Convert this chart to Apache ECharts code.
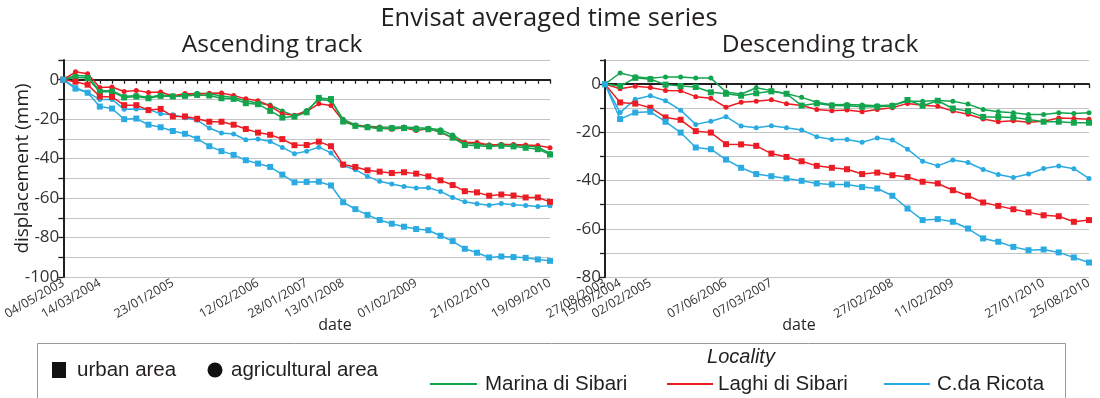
<!DOCTYPE html>
<html>
<head>
<meta charset="utf-8">
<script src="https://cdn.jsdelivr.net/npm/echarts@6/dist/echarts.min.js"></script>
<style>
  html, body { margin: 0; padding: 0; background: #fff; }
  #chart { width: 1100px; height: 398px; }
</style>
</head>
<body>
<div id="chart"></div>
<script>
// Acquisition dates shown on each time axis (index of the acquisition -> label)
const ascTickIndex = [0, 3, 9, 16, 20, 23, 29, 35, 40];
const ascTickLabels = ['04/05/2003', '14/03/2004', '23/01/2005', '12/02/2006', '28/01/2007',
  '13/01/2008', '01/02/2009', '21/02/2010', '19/09/2010'];
const descTickIndex = [0, 1, 3, 8, 11, 19, 23, 29, 32];
const descTickLabels = ['27/08/2003', '15/09/2004', '02/02/2005', '07/06/2006', '07/03/2007',
  '27/02/2008', '11/02/2009', '27/01/2010', '25/08/2010'];

// Ascending track, displacement (mm) per acquisition
const ascMarinaUrban = [0, 1.2, 0.9, -6.2, -6, -9, -8.5, -9.4, -8.2, -8.5, -8.2, -7.7, -8, -9.4, -9.7, -11.9,
  -12.4, -15.8, -19.2, -18.7, -16.5, -9.2, -9.8, -21.2, -23.4, -24.1, -24.8, -24.6, -24.5, -25, -25.1,
  -26.3, -29.4, -33.1, -33.5, -33.8, -33.5, -33.8, -34.5, -35.2, -37.9];
const ascMarinaAgri = [0, 2.3, 1.8, -5.6, -5.6, -8.5, -8, -9, -7.7, -8.2, -7.7, -6.8, -7.1, -8.2, -9, -10.7,
  -11.9, -12.8, -15.8, -18.4, -15.6, -10, -10.6, -20, -22.9, -23.6, -23.9, -24.1, -23.9, -24.3, -24.6,
  -25.3, -28, -31.8, -32.8, -33.1, -32.8, -33.1, -33.6, -34.1, -37.4];
const ascLaghiUrban = [0, -1, -2.5, -8.5, -8.7, -12.9, -12.9, -15.4, -14.8, -18.6, -18.6, -19.8, -21.3, -21.3,
  -22.8, -25, -26.8, -27.9, -30.1, -33.2, -33.1, -31.4, -33.7, -43, -44.2, -45.9, -46.6, -47.3, -46.9,
  -47.6, -49, -51, -53.4, -56.5, -57.1, -58.8, -58.2, -58.7, -59.7, -59.7, -61.9];
const ascLaghiAgri = [0, 4, 3, -4, -3.7, -6, -5.4, -6.5, -6.2, -8.2, -7, -7.3, -6.8, -6.7, -8, -9.7, -10.6,
  -13.3, -17.3, -18, -16.1, -12.2, -13.1, -20.9, -23.1, -23.9, -24.3, -25.1, -24.3, -25.8, -24.8, -26.7,
  -29.4, -31.8, -31.8, -33.1, -32.8, -32.8, -33.1, -33.3, -34.5];
const ascRicotaUrban = [0, -4.5, -6.6, -13.6, -14.6, -20, -19.7, -22.8, -24.1, -26, -27.4, -29.9, -33.7, -36.2,
  -38.1, -40.8, -42.5, -44.2, -48.1, -52, -51.8, -51.7, -53.6, -62.1, -65.6, -68.5, -71.1, -73, -74.5,
  -75.7, -76.3, -79.1, -81.8, -85.7, -87.7, -90.1, -89.6, -89.9, -90.3, -91.1, -91.8];
const ascRicotaAgri = [0, -4, -6.5, -10, -10, -15, -14.8, -15, -17.3, -17.7, -19.3, -20.5, -24.5, -27, -27.5,
  -30.4, -30.1, -31.3, -34.3, -37.5, -36.2, -34.2, -37.1, -43.5, -45.6, -49, -51.5, -52.9, -54.1, -54.9,
  -54.8, -56.6, -59.7, -61.9, -62.9, -63.6, -62.7, -63.4, -63.8, -64.3, -63.9];

// Descending track, displacement (mm) per acquisition
const descMarinaUrban = [0, -0.8, 2.6, 2, -0.2, -0.8, -1.2, -3.4, -4, -4.8, -3.8, -3, -4, -8.9, -8, -8.9, -9,
  -9.4, -9.4, -9.1, -6.6, -9, -6.9, -10.1, -11.2, -13.6, -13.6, -13.8, -14.7, -15.6, -15.6, -16, -16];
const descMarinaAgri = [0, 4.6, 3.1, 2.4, 3, 3, 2.5, 2.5, -3.3, -4.2, -1.5, -2.7, -4, -5.5, -7.5, -8.6, -8.5,
  -8.7, -9, -8.7, -7.1, -7.1, -6.8, -7.1, -8.3, -10.5, -11.5, -11.9, -12.6, -12.6, -11.9, -12.2, -11.9];
const descLaghiUrban = [0, -7.6, -8.1, -9.8, -13.8, -14.8, -19.5, -20.1, -24.9, -25, -25.6, -28.8, -30.2, -32,
  -33.9, -34.7, -35.3, -37.3, -36.7, -37.8, -38.5, -40.5, -41.2, -44, -46.3, -49.1, -50.5, -51.9, -53.2,
  -54.4, -54.8, -57.1, -56.4];
const descLaghiAgri = [0, -1.9, -0.9, -1.4, -2.6, -2.8, -5.2, -5.9, -9.6, -7.5, -7.1, -6.5, -8.1, -8.9, -10.5,
  -11, -10.7, -11.5, -10.5, -9.8, -8, -8.8, -9.2, -11.2, -12.5, -14.5, -15.6, -15.2, -15.8, -15.4, -14.1,
  -14.3, -14.6];
const descRicotaUrban = [0, -14.5, -11.8, -11.5, -15.6, -20.1, -26.3, -27, -31.3, -34.7, -37.3, -38.2, -39.1,
  -40.1, -41.2, -41.6, -41.6, -42.7, -43.3, -46.3, -51.6, -56.4, -56, -57.1, -59.9, -64, -65.4, -67.5,
  -68.9, -68.6, -69.8, -71.9, -74];
const descRicotaAgri = [0, -11.8, -6.3, -4.8, -6.9, -10.8, -16.7, -15.4, -13.5, -17.4, -18.1, -17.3, -18.1, -19,
  -21.8, -23, -23, -24.1, -22.3, -23.2, -27, -32, -33.9, -31.5, -32.5, -35.4, -37.5, -38.7, -37.3, -35,
  -34, -35.1, -39.1];

const localities = ['Marina di Sibari', 'Laghi di Sibari', 'C.da Ricota'];
const colors = { 'Marina di Sibari': '#12a54e', 'Laghi di Sibari': '#ec1c24', 'C.da Ricota': '#29abe2' };

const ink = '#231f20';
const font = '"Open Sans", "DejaVu Sans", sans-serif';
const legendFont = '"Liberation Sans", Arial, sans-serif';

// Category axis over the acquisitions; only the listed indices get a date label.
function categoryAxis(gridIndex, count, tickIndex, tickLabels, overlay) {
  const lookup = {};
  tickIndex.forEach((k, j) => { lookup[k] = tickLabels[j]; });
  return {
    type: 'category', gridIndex, position: 'bottom', boundaryGap: false,
    data: Array.from({ length: count }, (_, i) => String(i)),
    axisLine: { show: !overlay, lineStyle: { color: ink, width: 2 } },
    axisTick: { show: !overlay, interval: 0, length: 4, lineStyle: { color: ink, width: 1.3 } },
    axisLabel: {
      interval: (i) => lookup[i] !== undefined,
      formatter: (v, i) => lookup[i] || '',
      showMinLabel: !overlay, showMaxLabel: !overlay, hideOverlap: false,
      rotate: 30, margin: 5, fontSize: 12.5, color: '#333', fontFamily: font
    },
    splitLine: { show: false }
  };
}

function valueAxis(gridIndex, min, name) {
  return {
    type: 'value', gridIndex, min, max: 10, interval: 10,
    name: name || '', nameLocation: 'middle', nameGap: 31, nameMoveOverlap: false,
    nameTextStyle: { fontSize: 19, color: ink, fontFamily: font },
    axisLine: { show: true, lineStyle: { color: ink, width: 2 } },
    axisTick: { show: true, length: 5, lineStyle: { color: ink, width: 1.3 } },
    axisLabel: {
      formatter: (v) => (v <= 0 && v % 20 === 0 ? String(v) : ''),
      fontSize: 17, color: '#333', fontFamily: font, margin: 4
    },
    splitLine: { lineStyle: { color: '#c4c4c4', width: 1.2 } }
  };
}

function line(name, data, urban, axisIndex) {
  const c = colors[name];
  return {
    type: 'line', name, data,
    xAxisIndex: axisIndex, yAxisIndex: axisIndex,
    symbol: urban ? 'rect' : 'circle', symbolSize: urban ? 6 : 5,
    showSymbol: true,
    lineStyle: { color: c, width: 1.5 },
    itemStyle: { color: c },
    emphasis: { disabled: true },
    z: urban ? 3 : 2
  };
}

const series = [
  line(localities[0], ascMarinaAgri, false, 0),
  line(localities[0], ascMarinaUrban, true, 0),
  line(localities[1], ascLaghiAgri, false, 0),
  line(localities[1], ascLaghiUrban, true, 0),
  line(localities[2], ascRicotaAgri, false, 0),
  line(localities[2], ascRicotaUrban, true, 0),
  line(localities[0], descMarinaAgri, false, 1),
  line(localities[0], descMarinaUrban, true, 1),
  line(localities[1], descLaghiAgri, false, 1),
  line(localities[1], descLaghiUrban, true, 1),
  line(localities[2], descRicotaAgri, false, 1),
  line(localities[2], descRicotaUrban, true, 1)
];

function text(x, y, str, size, extra) {
  return {
    type: 'text', x, y, silent: true,
    style: Object.assign({
      text: str, font: size + 'px ' + font, fill: ink,
      align: 'center', textAlign: 'center', verticalAlign: 'middle', textVerticalAlign: 'middle'
    }, extra || {})
  };
}

function legendText(x, y, str) {
  return text(x, y, str, 20.5, { font: '20.5px ' + legendFont, align: 'left', textAlign: 'left' });
}

// Shared legend box: marker shapes for the area type, line colours for the locality
const legendY = 384;
const legendGraphics = [
  { type: 'rect', shape: { x: 37.5, y: 343.5, width: 1028, height: 60 }, style: { fill: '#fff', stroke: '#9a9a9a', lineWidth: 1 }, silent: true },
  { type: 'rect', shape: { x: 52, y: 362, width: 14, height: 16 }, style: { fill: '#111' }, silent: true },
  legendText(77, 370, 'urban area'),
  { type: 'circle', shape: { cx: 215, cy: 370, r: 7.5 }, style: { fill: '#111' }, silent: true },
  legendText(231, 370, 'agricultural area'),
  text(741, 357, 'Locality', 20, { font: 'italic 20px ' + legendFont })
];
const legendItems = [
  { name: localities[0], x0: 430, x1: 477, tx: 485 },
  { name: localities[1], x0: 667, x1: 713, tx: 718 },
  { name: localities[2], x0: 884, x1: 930, tx: 937 }
];
legendItems.forEach((it) => {
  legendGraphics.push({ type: 'line', shape: { x1: it.x0, y1: legendY, x2: it.x1, y2: legendY }, style: { stroke: colors[it.name], lineWidth: 2 }, silent: true });
  legendGraphics.push(legendText(it.tx, legendY, it.name));
});

// Second label of the descending axis sits on top of the first; it is drawn by an
// overlay axis on the same grid so both dates stay visible.
const descOverlayIndex = [descTickIndex[1]];
const descOverlayLabels = [descTickLabels[1]];
const descMainIndex = descTickIndex.filter((_, j) => j !== 1);
const descMainLabels = descTickLabels.filter((_, j) => j !== 1);

const option = {
  animation: false,
  backgroundColor: '#fff',
  grid: [
    { left: 63, top: 60, width: 487, height: 217 },
    { left: 605, top: 60, width: 484, height: 217 }
  ],
  xAxis: [
    categoryAxis(0, ascMarinaUrban.length, ascTickIndex, ascTickLabels),
    categoryAxis(1, descMarinaUrban.length, descMainIndex, descMainLabels),
    categoryAxis(1, descMarinaUrban.length, descOverlayIndex, descOverlayLabels, true)
  ],
  yAxis: [
    valueAxis(0, -100, 'displacement (mm)'),
    valueAxis(1, -80)
  ],
  series,
  graphic: [
    text(549, 19, 'Envisat averaged time series', 25.5),
    text(272, 45, 'Ascending track', 24.5),
    text(820, 45, 'Descending track', 24.5),
    text(335, 325, 'date', 16),
    text(799, 325, 'date', 16)
  ].concat(legendGraphics)
};

const chart = echarts.init(document.getElementById('chart'), null, { renderer: 'canvas' });
chart.setOption(option);
</script>
</body>
</html>
